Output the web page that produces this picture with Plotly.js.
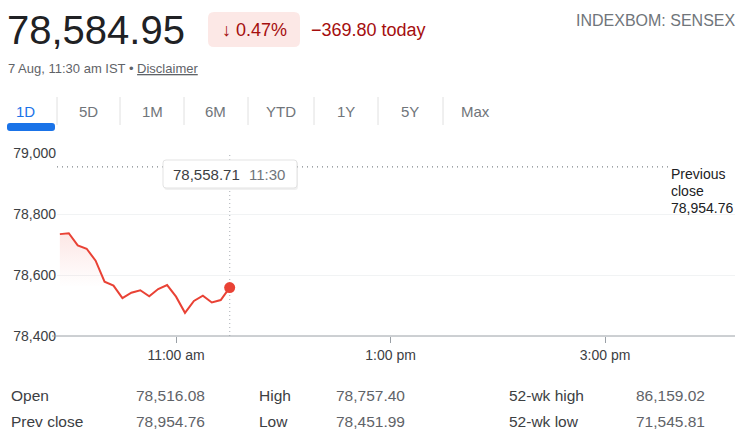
<!DOCTYPE html>
<html>
<head>
<meta charset="utf-8">
<script src="https://cdn.plot.ly/plotly-3.0.1.min.js"></script>
<style>
html,body{margin:0;padding:0;background:#fff;}
#chart{width:750px;height:447px;}
</style>
</head>
<body>
<div id="chart"></div>
<script>
// ---- data ----
const day = '2024-08-07';
const times = ['09:55','10:00','10:05','10:10','10:15','10:20','10:25','10:30','10:35','10:40',
               '10:45','10:50','10:55','11:00','11:05','11:10','11:15','11:20','11:25','11:30'];
const prices = [78734, 78737, 78697, 78686, 78647, 78578, 78565, 78524, 78542, 78550,
                78530, 78554, 78567, 78529, 78476, 78515, 78532, 78510, 78518, 78558.71];
const prevClose = 78954.76;
const yTicks = [78400, 78600, 78800, 79000];
const yTickText = ['78,400', '78,600', '78,800', '79,000'];
const xTickTimes = ['11:00', '13:00', '15:00'];
const xTickText = ['11:00 am', '1:00 pm', '3:00 pm'];
const tabs = ['1D','5D','1M','6M','YTD','1Y','5Y','Max'];
const statLabels = [['Open','Prev close'],['High','Low'],['52-wk high','52-wk low']];
const statValues = [['78,516.08','78,954.76'],['78,757.40','78,451.99'],['86,159.02','71,545.81']];
const headPrice = '78,584.95';
const headPct = '↓ 0.47%';
const headChange = '−369.80 today';
const ticker = 'INDEXBOM: SENSEX';
const stamp = '7 Aug, 11:30 am IST • ';
const tipPrice = '78,558.71';
const tipTime = '11:30';

// ---- geometry helpers (pixel -> paper) ----
const L = 57, R = 735, T = 153, B = 336;
const W = R - L, H = B - T;
const px = x => (x - L) / W;
const py = y => (B - y) / H;
const FONT = 'Arial, "Liberation Sans", sans-serif';
const red = '#e94235';

const xs = times.map(t => day + ' ' + t);
const lastX = xs[xs.length - 1];
const lastY = prices[prices.length - 1];

const traces = [
  {
    x: xs, y: prices, type: 'scatter', mode: 'lines',
    line: {color: red, width: 2},
    fill: 'tozeroy',
    fillgradient: {type: 'vertical', start: 78560, stop: 78740,
      colorscale: [[0, 'rgba(233,66,53,0)'], [1, 'rgba(233,66,53,0.13)']]},
    hoverinfo: 'skip'
  },
  {
    x: [lastX], y: [lastY], type: 'scatter', mode: 'markers',
    marker: {color: red, size: 11, line: {width: 0}}, hoverinfo: 'skip'
  }
];

const shapes = [];
const annotations = [];

function rrect(x0, y0, x1, y1, r) {
  const X = v => px(v).toFixed(5), Y = v => py(v).toFixed(5);
  return 'M' + X(x0 + r) + ',' + Y(y0) +
    ' L' + X(x1 - r) + ',' + Y(y0) + ' Q' + X(x1) + ',' + Y(y0) + ' ' + X(x1) + ',' + Y(y0 + r) +
    ' L' + X(x1) + ',' + Y(y1 - r) + ' Q' + X(x1) + ',' + Y(y1) + ' ' + X(x1 - r) + ',' + Y(y1) +
    ' L' + X(x0 + r) + ',' + Y(y1) + ' Q' + X(x0) + ',' + Y(y1) + ' ' + X(x0) + ',' + Y(y1 - r) +
    ' L' + X(x0) + ',' + Y(y0 + r) + ' Q' + X(x0) + ',' + Y(y0) + ' ' + X(x0 + r) + ',' + Y(y0) + ' Z';
}
function txt(x, y, text, size, color, xanchor, extra) {
  annotations.push(Object.assign({
    xref: 'paper', yref: 'paper', x: px(x), y: py(y), text: text,
    showarrow: false, xanchor: xanchor || 'left', yanchor: 'middle',
    font: {family: FONT, size: size, color: color}, borderpad: 0
  }, extra || {}));
}

// header
txt(6, 30, headPrice, 40, '#202124');
shapes.push({type: 'path', xref: 'paper', yref: 'paper', path: rrect(208, 12, 300, 47, 6),
  fillcolor: '#fce8e6', line: {width: 0}, layer: 'above'});
txt(254, 30, headPct, 18, '#a50e0e', 'center');
txt(310, 30, headChange, 18, '#a50e0e');
txt(736, 20, ticker, 16, '#70757a', 'right');
txt(7, 69, stamp + '<span style="text-decoration:underline">Disclaimer</span>', 13, '#5f6368');

// tabs
const tabCenters = [25, 88, 152, 215, 281, 346, 410, 475];
tabs.forEach((t, i) => txt(tabCenters[i], 111, t, 15, i === 0 ? '#1a73e8' : '#70757a', 'center'));
[57, 120, 184, 248, 314, 378, 443].forEach(x => shapes.push({
  type: 'line', xref: 'paper', yref: 'paper', x0: px(x), x1: px(x), y0: py(97), y1: py(125),
  line: {color: '#e0e0e0', width: 1}}));
shapes.push({type: 'path', xref: 'paper', yref: 'paper', path: rrect(7, 123, 55, 131, 3),
  fillcolor: '#1a73e8', line: {width: 0}});

// previous close line + label
shapes.push({type: 'line', xref: 'paper', yref: 'y', x0: 0, x1: px(670), y0: prevClose, y1: prevClose,
  line: {color: '#80868b', width: 1.3, dash: '1px,4px'}, layer: 'below'});
txt(670, 174, 'Previous', 14, '#202124');
txt(670, 191, 'close', 14, '#202124');
txt(670, 208, '78,954.76', 14, '#202124');

// vertical hover line
shapes.push({type: 'line', xref: 'x', yref: 'paper', x0: lastX, x1: lastX, y0: 0, y1: 1,
  line: {color: '#bdc1c6', width: 1.3, dash: '1px,3px'}, layer: 'below'});

// bottom axis line
shapes.push({type: 'line', xref: 'paper', yref: 'paper', x0: px(52), x1: 1, y0: 0, y1: 0,
  line: {color: '#9aa0a6', width: 1}});

// tooltip
shapes.push({type: 'path', xref: 'paper', yref: 'paper', path: rrect(164, 161, 298, 190, 3),
  fillcolor: 'rgba(0,0,0,0.06)', line: {width: 0}, layer: 'above'});
shapes.push({type: 'path', xref: 'paper', yref: 'paper', path: rrect(163, 160, 297, 188, 3),
  fillcolor: '#ffffff', line: {color: '#e3e3e3', width: 1}, layer: 'above'});
txt(172, 174, tipPrice, 15, '#3c4043');
txt(248, 174, tipTime, 15, '#70757a');

// stats
const colLabelX = [10, 258, 508], colValX = [135, 335, 635], rowY = [395, 421];
statLabels.forEach((col, c) => col.forEach((lab, r) => {
  txt(colLabelX[c], rowY[r], lab, 15.5, '#3c4043');
  txt(colValX[c], rowY[r], statValues[c][r], 15.5, '#5f6368');
}));

const layout = {
  width: 750, height: 447,
  margin: {l: L, r: 750 - R, t: T, b: 447 - B, pad: 0},
  paper_bgcolor: '#fff', plot_bgcolor: '#fff',
  showlegend: false, hovermode: false,
  xaxis: {
    type: 'date',
    range: [day + ' 09:53:24', day + ' 16:12:42'],
    tickvals: xTickTimes.map(t => day + ' ' + t), ticktext: xTickText,
    ticks: 'outside', ticklen: 6, tickcolor: '#9aa0a6', tickwidth: 1,
    showgrid: false, zeroline: false, showline: false,
    tickfont: {family: FONT, size: 14, color: '#3c4043'}
  },
  yaxis: {
    range: [78400, 79000],
    tickvals: yTicks, ticktext: yTickText,
    ticks: '', showgrid: true, gridcolor: '#f1f3f4', gridwidth: 1,
    zeroline: false, showline: false,
    tickfont: {family: FONT, size: 14, color: '#3c4043'}
  },
  shapes: shapes,
  annotations: annotations
};

Plotly.newPlot('chart', traces, layout, {displayModeBar: false, staticPlot: true});
</script>
</body>
</html>
